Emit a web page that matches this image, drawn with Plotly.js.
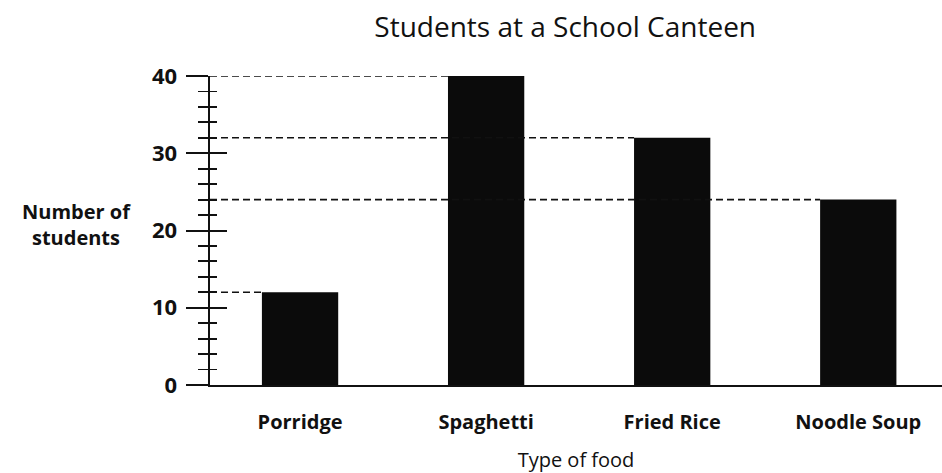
<!DOCTYPE html>
<html><head><meta charset="utf-8">
<script src="https://cdn.plot.ly/plotly-3.0.1.min.js"></script>
<style>html,body{margin:0;padding:0;background:#fff}#c{width:942px;height:473px}</style>
</head><body><div id="c"></div>
<script>
const categories = ["Porridge", "Spaghetti", "Fried Rice", "Noodle Soup"];
const students = [12, 40, 32, 24];
const yTicks = [0, 10, 20, 30, 40];

const barWidth = 0.41;
const xStart = -0.484;
const font = "'Open Sans', Lato, sans-serif";

const shapes = students.map((v, i) => ({
  type: "line", xref: "x", yref: "y",
  x0: xStart, x1: i - barWidth / 2, y0: v, y1: v,
  line: {color: "#111", width: 1.6, dash: "7px,4px"}
}));

const traces = [
  {type: "bar", x: categories, y: students, width: barWidth,
   marker: {color: "#0b0b0b", line: {width: 0}}, hoverinfo: "skip"},
  {type: "scatter", x: categories, y: students, yaxis: "y2", mode: "none",
   hoverinfo: "skip", showlegend: false}
];

const layout = {
  width: 942, height: 473,
  margin: {l: 210, r: 0, t: 76, b: 88},
  paper_bgcolor: "#fff", plot_bgcolor: "#fff",
  showlegend: false,
  title: {text: "Students at a School Canteen", x: 0.6, xanchor: "center", y: 0.943, yanchor: "middle",
          font: {family: font, size: 28, color: "#111"}},
  xaxis: {
    type: "category", range: [xStart, 3.45],
    showline: true, linecolor: "#111", linewidth: 2,
    ticks: "", showgrid: false, zeroline: false,
    tickfont: {family: font, size: 20, color: "#111", weight: "bold"},
    ticklen: 0, tickangle: 0, ticklabelstandoff: 18,
    title: {text: "Type of food", font: {family: font, size: 20, color: "#111"}, standoff: 20}
  },
  yaxis: {
    range: [0, 40], tickvals: yTicks, ticktext: yTicks.map(String),
    showline: true, linecolor: "#111", linewidth: 2.5,
    ticks: "outside", ticklen: 22, tickwidth: 2, tickcolor: "#111",
    minor: {dtick: 2, tick0: 0, ticks: "outside", ticklen: 10, tickwidth: 1.8, tickcolor: "#111", showgrid: false},
    showgrid: false, zeroline: false,
    tickfont: {family: font, size: 22, color: "#111", weight: "bold"},
    ticklabelstandoff: 4
  },
  yaxis2: {
    overlaying: "y", anchor: "x", side: "left",
    range: [0, 40], tickvals: yTicks, showticklabels: false,
    showline: false, ticks: "inside", ticklen: 17, tickwidth: 2, tickcolor: "#111",
    minor: {dtick: 2, tick0: 0, ticks: "inside", ticklen: 7, tickwidth: 1.8, tickcolor: "#111", showgrid: false},
    showgrid: false, zeroline: false
  },
  shapes: shapes,
  annotations: [{
    text: "<b>Number of<br>students</b>", xref: "paper", yref: "paper",
    x: -0.183, y: 0.521, xanchor: "center", yanchor: "middle", showarrow: false,
    align: "center", font: {family: font, size: 20, color: "#111"}
  }]
};

Plotly.newPlot("c", traces, layout, {displayModeBar: false, staticPlot: true});
</script></body></html>
